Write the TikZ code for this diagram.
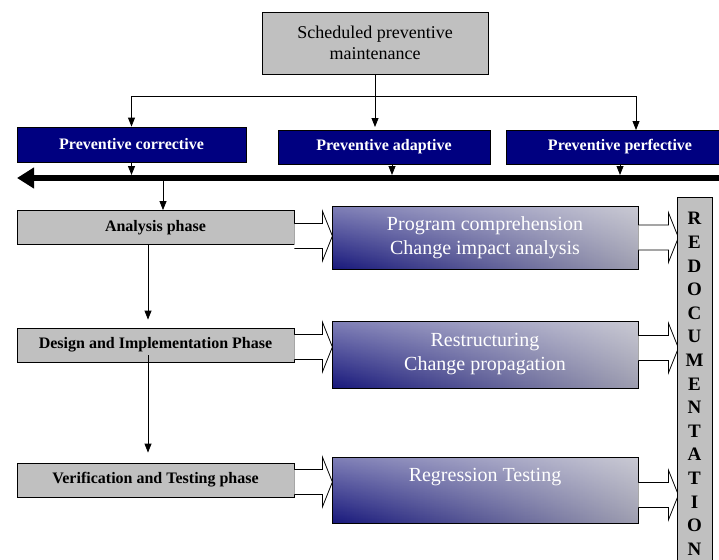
\documentclass[tikz,border=0pt]{standalone}
\usepackage{fontspec}
\setmainfont{Liberation Serif}
\usetikzlibrary{arrows.meta,fadings}
\definecolor{boxgray}{RGB}{192,192,192}
\definecolor{headblue}{RGB}{0,0,128}
\definecolor{deepblue}{RGB}{24,24,124}
\definecolor{steelgray}{RGB}{158,158,176}
\tikzset{
    graybox/.style = {
        rectangle, draw, fill=boxgray, align=center
    },
    header/.style = {
        rectangle, draw, fill=headblue, text=white, minimum height=34pt,
        font=\fontsize{16}{19}\selectfont\bfseries
    },
    phase/.style = {
        rectangle, draw, fill=boxgray, minimum width=277pt, minimum height=34pt,
        font=\fontsize{16}{19}\selectfont\bfseries
    },
    activity/.style = {
        rectangle, draw, left color=deepblue, right color=steelgray,
        path picture={
            \fill[white, path fading=south, fill opacity=0.45]
                (path picture bounding box.south west) rectangle (path picture bounding box.north east);
        },
        text=white, minimum width=306pt, align=center, font=\fontsize{20}{24}\selectfont
    },
    arr/.style = {-{Triangle[length=9pt,width=7pt]}},
    pics/hollow/.style = {
        code = {
            \draw[fill=white] (0pt,12.5pt) -- (#1pt-10pt,12.5pt) -- (#1pt-10pt,25pt)
                -- (#1pt,0pt) -- (#1pt-10pt,-25pt) -- (#1pt-10pt,-12.5pt) -- (0pt,-12.5pt);
        }
    }
}

\begin{document}
\begin{tikzpicture}[x=1pt, y=-1pt, line width=0.8pt]
    \useasboundingbox (0,0) rectangle (719,559);
    \node[graybox, minimum width=226pt, minimum height=62pt, font=\fontsize{18}{21}\selectfont]
        (sched) at (375,43) {Scheduled preventive\\maintenance};
    \node[header, minimum width=229pt, minimum height=35pt] (corr) at (131.5,144.5) {Preventive corrective};
    \node[header, minimum width=212pt] (adap) at (384,147) {Preventive adaptive};
    \node[header, minimum width=228pt] (perf) at (620,147) {Preventive perfective};

    % split of the scheduled maintenance
    \coordinate (fork) at (375,96);
    \coordinate (adapin) at (375,127);
    \coordinate (perfin) at (636,130);
    \draw[arr] (sched.south) -- (adapin);
    \draw[arr] (fork) -| (corr.north);
    \draw[arr] (fork) -| (perfin);

    % main line
    \coordinate (busR) at (719,178);
    \coordinate (busL) at (17,178);
    \draw[line width=6pt, -{Triangle[length=17pt,width=20pt]}] (busR) -- (busL);
    \draw[arr, shorten >=3pt] (corr.south) -- (corr.south |- busR);
    \draw[arr, shorten >=3pt] ([xshift=8pt]adap.south) -- ([xshift=8pt]adap.south |- busR);
    \draw[arr, shorten >=3pt] (perf.south) -- (perf.south |- busR);

    \node[phase] (analysis) at (155.5,227.5) {Analysis phase};
    \node[phase] (design) at (155.5,345) {Design and Implementation Phase};
    \node[phase] (verif) at (155.5,480) {Verification and Testing phase};
    \draw[arr] ([xshift=7.5pt]analysis.north |- busR) -- ([xshift=7.5pt]analysis.north);
    \draw[arr, shorten >=8pt] ([xshift=-7.5pt]analysis.south) -- ([xshift=-7.5pt]design.north);
    \draw[arr, shorten >=10pt] ([xshift=-7.5pt,yshift=7pt]design.south) -- ([xshift=-7.5pt]verif.north);

    % hollow arrows into the activities
    \pic at ([yshift=-8.5pt]analysis.east) {hollow=38};
    \pic at ([yshift=-2pt]design.east) {hollow=38};
    \pic at ([yshift=-2pt]verif.east) {hollow=38};

    \node[activity, minimum height=63pt] (comp) at (485,237.5) {Program comprehension\\Change impact analysis};
    \node[activity, minimum height=67pt] (restr) at (485,354.5) {Restructuring\\Change propagation};
    \node[activity, minimum height=66pt] (regr) at (485,490) {Regression Testing\\\strut};

    \pic at (comp.east) {hollow=40};
    \pic at ([yshift=6.5pt]restr.east) {hollow=40};
    \pic at ([yshift=-5pt]regr.east) {hollow=40};

    \node[graybox, anchor=north, minimum width=35pt, inner ysep=15pt,
        font=\fontsize{19}{23.6}\selectfont\bfseries]
        (redoc) at (694.5,197) {R\\E\\D\\O\\C\\U\\M\\E\\N\\T\\A\\T\\I\\O\\N};
\end{tikzpicture}
\end{document}
